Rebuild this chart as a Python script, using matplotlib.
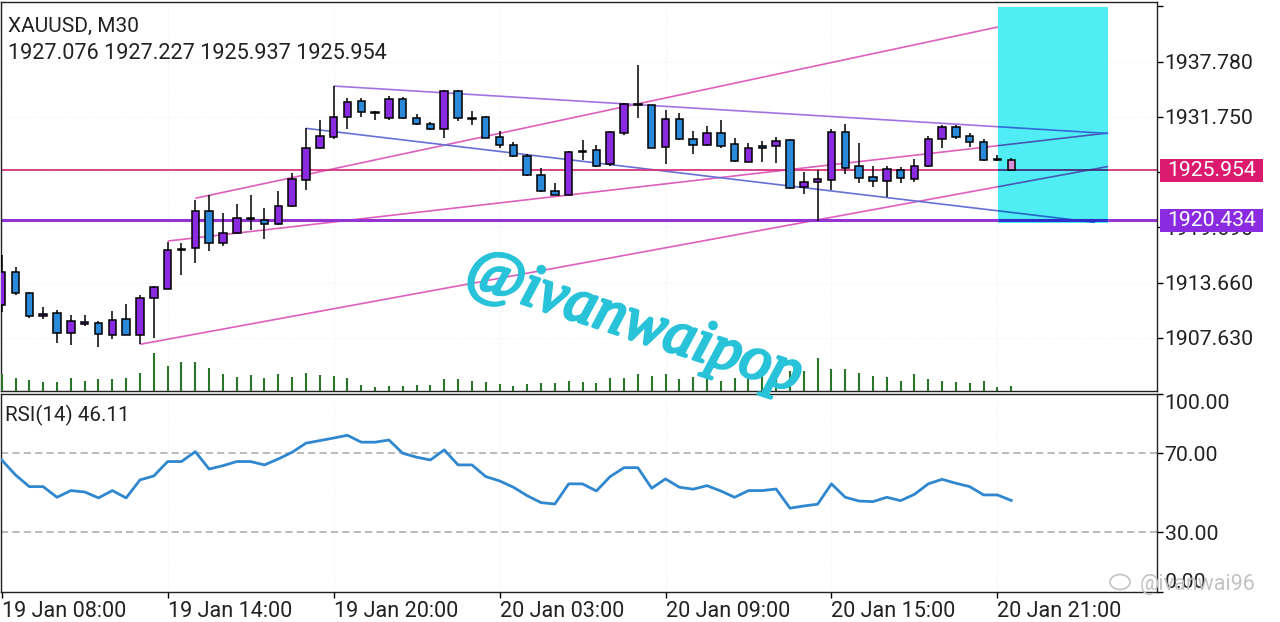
import matplotlib
matplotlib.use('Agg')
import matplotlib.pyplot as plt
from matplotlib.patches import Rectangle, Ellipse
from matplotlib.colors import to_rgb
import matplotlib.patheffects as pe

plt.rcParams['font.family'] = ['Roboto', 'DejaVu Sans']

# ---------------- data ----------------
opens = [1911.20, 1914.84, 1912.48, 1910.05, 1910.36, 1908.11, 1909.13, 1909.27, 1907.92, 1909.64,
         1907.92, 1911.93, 1912.95, 1917.25, 1917.40, 1921.47, 1917.94, 1919.10, 1920.60, 1920.49,
         1920.02, 1922.02, 1924.86, 1928.32, 1929.52, 1931.70, 1933.52, 1932.32, 1931.60, 1933.70,
         1931.66, 1930.94, 1930.40, 1934.60, 1931.60, 1931.77, 1929.55, 1928.68, 1927.51, 1925.40,
         1923.69, 1923.25, 1927.90, 1928.13, 1926.57, 1929.96, 1933.10, 1933.05, 1928.43, 1931.52,
         1929.37, 1928.68, 1929.96, 1928.76, 1926.86, 1928.57, 1928.57, 1929.23, 1924.06, 1924.67,
         1924.86, 1930.07, 1926.39, 1925.15, 1924.78, 1925.95, 1924.96, 1926.42, 1929.34, 1930.62,
         1929.66, 1929.04, 1927.10, 1927.076]
highs = [1916.66, 1915.32, 1912.60, 1911.02, 1910.65, 1910.11, 1910.10, 1909.50, 1910.55, 1911.31,
         1912.29, 1913.30, 1918.12, 1917.94, 1922.67, 1923.22, 1921.22, 1922.20, 1923.22, 1921.76,
         1923.65, 1925.59, 1930.50, 1931.41, 1935.12, 1933.78, 1933.78, 1932.40, 1934.00, 1933.90,
         1932.03, 1931.23, 1934.70, 1934.74, 1932.43, 1931.90, 1930.24, 1929.04, 1927.70, 1926.13,
         1924.56, 1928.00, 1929.23, 1928.68, 1930.20, 1933.30, 1937.42, 1933.10, 1932.50, 1932.14,
         1930.24, 1930.79, 1931.41, 1929.41, 1928.87, 1929.12, 1929.52, 1929.30, 1925.70, 1925.95,
         1930.40, 1930.94, 1928.93, 1926.39, 1926.39, 1926.31, 1927.12, 1929.66, 1930.87, 1930.87,
         1929.96, 1929.30, 1927.60, 1927.227]
lows = [1910.47, 1912.30, 1909.75, 1909.64, 1907.02, 1906.83, 1908.90, 1906.65, 1907.45, 1907.90,
        1906.91, 1907.56, 1912.90, 1914.48, 1915.76, 1917.13, 1917.65, 1919.00, 1919.39, 1918.38,
        1919.90, 1921.90, 1923.77, 1928.20, 1929.30, 1930.40, 1931.77, 1931.41, 1931.41, 1931.50,
        1930.90, 1930.30, 1929.48, 1931.30, 1930.86, 1929.40, 1928.38, 1927.40, 1925.30, 1923.60,
        1923.20, 1923.20, 1927.04, 1926.24, 1926.40, 1929.77, 1931.60, 1928.30, 1926.57, 1929.20,
        1927.70, 1928.60, 1928.40, 1926.80, 1926.80, 1926.86, 1926.75, 1923.90, 1923.33, 1920.43,
        1923.77, 1925.50, 1924.56, 1924.05, 1923.03, 1924.56, 1924.67, 1926.30, 1928.32, 1929.34,
        1928.49, 1926.90, 1926.90, 1925.937]
closes = [1914.84, 1912.48, 1910.03, 1910.15, 1908.11, 1909.45, 1909.35, 1908.00, 1909.56, 1907.92,
          1911.93, 1913.20, 1917.21, 1917.35, 1921.47, 1917.94, 1919.10, 1920.67, 1920.70, 1920.02,
          1922.02, 1924.93, 1928.32, 1929.66, 1931.70, 1933.41, 1932.32, 1932.15, 1933.70, 1931.60,
          1930.94, 1930.40, 1934.60, 1931.60, 1931.55, 1929.48, 1928.68, 1927.48, 1925.37, 1923.69,
          1923.25, 1927.88, 1927.95, 1926.39, 1930.07, 1933.13, 1933.00, 1928.38, 1931.49, 1929.30,
          1928.68, 1929.96, 1928.57, 1926.93, 1928.32, 1928.32, 1929.12, 1924.02, 1924.61, 1924.96,
          1930.07, 1926.20, 1925.05, 1924.78, 1926.06, 1925.05, 1926.42, 1929.34, 1930.62, 1929.59,
          1929.04, 1927.04, 1927.08, 1925.954]
volumes = [668, 508, 428, 376, 376, 508, 388, 468, 468, 532,
           732, 1508, 1000, 1160, 1160, 908, 668, 572, 628, 508,
           668, 572, 708, 628, 600, 532, 228, 160, 200, 188,
           240, 240, 492, 492, 388, 360, 292, 212, 280, 320,
           320, 412, 372, 308, 520, 520, 680, 612, 680, 480,
           548, 600, 412, 532, 600, 680, 840, 812, 812, 1308,
           892, 892, 720, 612, 560, 388, 668, 468, 388, 348,
           320, 400, 148, 188]
rsi = [66.6, 59.0, 53.1, 53.1, 47.7, 51.1, 50.4, 47.4, 51.1, 47.4,
       56.5, 58.5, 65.8, 65.8, 70.8, 62.0, 63.7, 65.8, 65.8, 64.1,
       67.1, 70.5, 75.1, 76.4, 77.7, 79.1, 75.6, 75.6, 76.7, 70.0,
       68.0, 66.6, 71.7, 64.1, 64.1, 58.2, 56.0, 52.8, 48.5, 45.0,
       44.3, 54.5, 54.5, 50.9, 58.2, 62.7, 62.7, 52.3, 57.0, 52.8,
       51.8, 53.6, 50.9, 47.7, 51.1, 51.1, 51.9, 42.2, 43.3, 44.2,
       54.5, 47.7, 45.8, 45.5, 47.7, 46.0, 49.2, 54.5, 56.8, 54.8,
       53.1, 48.9, 48.9, 46.11]

time_ticks = [0, 12, 24, 36, 48, 60, 72]
time_labels = ['19 Jan 08:00', '19 Jan 14:00', '19 Jan 20:00', '20 Jan 03:00',
               '20 Jan 09:00', '20 Jan 15:00', '20 Jan 21:00']
price_ticks = [1907.63, 1913.66, 1919.69, 1925.72, 1931.75, 1937.78, 1943.81]
price_labels = ['1907.630', '1913.660', '1919.690', '', '1931.750', '1937.780', '']
rsi_ticks = [0, 30, 70, 100]
rsi_labels = ['0.00', '30.00', '70.00', '100.00']

# trend lines: (bar0, price0, bar1, price1)
upper_pink = (14.0, 1922.86, 72.04, 1941.57)
mid_pink = (12.0, 1918.19, 80.0, 1929.99)
low_pink = (10.0, 1906.91, 80.0, 1926.33)
purple_desc = (24.0, 1935.12, 80.0, 1929.94)
blue_desc = (22.0, 1930.50, 79.05, 1920.23)
price_line = 1925.954
support_line = 1920.434
box = (72.04, 1920.16, 80.0, 1943.76)

title = 'XAUUSD, M30'
ohlc_text = '1927.076 1927.227 1925.937 1925.954'
rsi_text = 'RSI(14) 46.11'

# ---------------- layout ----------------
W, H = 1280, 622
fig = plt.figure(figsize=(12.8, 6.22), dpi=100)
fig.patch.set_facecolor('white')


def fx(px):
    return px / W


def fy(py):
    return 1 - py / H


XL = (-0.05, 83.54)
ax = fig.add_axes([fx(1), fy(391), fx(1156), (391 - 2) / H])
ax_rsi = fig.add_axes([fx(1), fy(591.5), fx(1156), (591.5 - 394) / H])
ax_vol = fig.add_axes([fx(1), fy(391), fx(1156), (391 - 2) / H], facecolor='none')

for a in (ax, ax_rsi, ax_vol):
    a.set_xlim(*XL)

ax.set_ylim(1901.81, 1944.30)
ax_vol.set_ylim(0, 389 * 40)
ax_vol.axis('off')
ax_rsi.set_ylim(0, 100)

PURPLE = '#8a2be2'
BLUE = '#2a8ad9'
BOXC = '#50eef4'

# faint grid
for a in (ax, ax_rsi):
    for t in time_ticks:
        a.axvline(t, color='#f1f1f1', lw=0.8, ls=':', zorder=0)
for p in price_ticks:
    ax.axhline(p, color='#f3f3f3', lw=0.8, ls=':', zorder=0)

# box
ax.add_patch(Rectangle((box[0], box[1]), box[2] - box[0], box[3] - box[1],
                       facecolor=BOXC, edgecolor='none', zorder=1))


def mult(c):
    a = to_rgb(c)
    b = to_rgb(BOXC)
    return tuple(x * y for x, y in zip(a, b))


def seg_line(x0, y0, x1, y1, color, lw):
    def yat(x):
        return y0 + (y1 - y0) * (x - x0) / (x1 - x0)
    pts = sorted(set([x0, x1] + [b for b in (box[0], box[2]) if x0 < b < x1]))
    for a, b in zip(pts[:-1], pts[1:]):
        mid = (a + b) / 2
        inside = box[0] <= mid <= box[2]
        ax.plot([a, b], [yat(a), yat(b)], color=mult(color) if inside else color,
                lw=lw, zorder=2, solid_capstyle='butt')


seg_line(*upper_pink, '#df5fbd', 1.2)
seg_line(*mid_pink, '#df5fbd', 1.2)
seg_line(*low_pink, '#df5fbd', 1.2)
seg_line(*purple_desc, '#a472e0', 1.2)
seg_line(*blue_desc, '#6670d4', 1.2)
seg_line(XL[0], price_line, XL[1], price_line, '#d4357f', 1.3)
seg_line(XL[0], support_line, XL[1], support_line, '#9432d2', 2.2)

# candles
for i, (o, h, l, c) in enumerate(zip(opens, highs, lows, closes)):
    ax.vlines(i, l, h, color='black', lw=1.1, zorder=3)
    if i == len(opens) - 1:
        fc = '#d98ed8'
    else:
        fc = PURPLE if c >= o else BLUE
    bottom = min(o, c)
    hgt = max(abs(c - o), 0.12)
    ax.add_patch(Rectangle((i - 0.27, bottom), 0.54, hgt, facecolor=fc,
                           edgecolor='black', lw=1.1, zorder=4))

# volumes
ax_vol.vlines(range(len(volumes)), 0, volumes, color='#2b752b', lw=1.5)

# axes styling main
ax.yaxis.tick_right()
ax.set_yticks(price_ticks)
ax.set_yticklabels(price_labels)
ax.tick_params(axis='y', direction='out', length=4, width=1, pad=1.5, labelsize=15.3,
               colors='black', labelcolor='#222222')
ax.tick_params(axis='x', length=0, labelbottom=False)
for s in ax.spines.values():
    s.set_color('#222222')
    s.set_linewidth(1.0)

# rsi
ax_rsi.axhline(70, color='#b5b5b5', lw=1.3, ls=(0, (4, 2.3)), zorder=1)
ax_rsi.axhline(30, color='#b5b5b5', lw=1.3, ls=(0, (4, 2.3)), zorder=1)
ax_rsi.plot(range(len(rsi)), rsi, color='#2f88cf', lw=2.0, zorder=3)
ax_rsi.yaxis.tick_right()
ax_rsi.set_yticks(rsi_ticks)
ax_rsi.set_yticklabels(rsi_labels)
ax_rsi.tick_params(axis='y', direction='out', length=4, width=1, pad=1.5, labelsize=15.3,
                   labelcolor='#222222')
ylabs = ax_rsi.get_yticklabels()
ylabs[0].set_va('bottom')
ylabs[-1].set_va('top')
ax_rsi.set_xticks(time_ticks)
ax_rsi.set_xticklabels(time_labels, ha='left')
ax_rsi.tick_params(axis='x', direction='out', length=4, width=1, pad=3, labelsize=15.6,
                   labelcolor='#222222')
for s in ax_rsi.spines.values():
    s.set_color('#222222')
    s.set_linewidth(1.0)

# price label boxes
for val, y0, y1, col in [(price_line, 159, 181.5, '#db1a6e'), (support_line, 208.5, 231.5, '#8a2be2')]:
    fig.patches.append(Rectangle((fx(1160), fy(y1)), fx(1263 - 1160), (y1 - y0) / H,
                                 transform=fig.transFigure, facecolor=col, edgecolor='none',
                                 zorder=5))
    fig.text(fx(1211.5), fy((y0 + y1) / 2 + 0.5), f'{val:.3f}', color='white', fontsize=15.3,
             ha='center', va='center', zorder=6)

# header texts
fig.text(fx(8), fy(32), title, fontsize=15, color='#222222', va='baseline')
fig.text(fx(8), fy(59), ohlc_text, fontsize=15.6, color='#222222', va='baseline')
fig.text(fx(5), fy(421), rsi_text, fontsize=14.8, color='#222222', va='baseline')

# watermarks
fig.text(fx(634), fy(324), '@ivanwaipop', fontsize=45, color='#29c3d9', rotation=-18,
         family='Liberation Serif', style='italic', ha='center', va='center', zorder=10,
         path_effects=[pe.withStroke(linewidth=2.2, foreground='#29c3d9')])
fig.text(fx(1140), fy(590), '@ivanwai96', fontsize=15.5, color='#c2c2c2', va='baseline', zorder=10)
fig.patches.append(Ellipse((fx(1120), fy(582)), fx(20), 15 / H, transform=fig.transFigure,
                           facecolor='none', edgecolor='#c2c2c2', lw=1.2, zorder=10))

fig.savefig('out.png', dpi=100)
